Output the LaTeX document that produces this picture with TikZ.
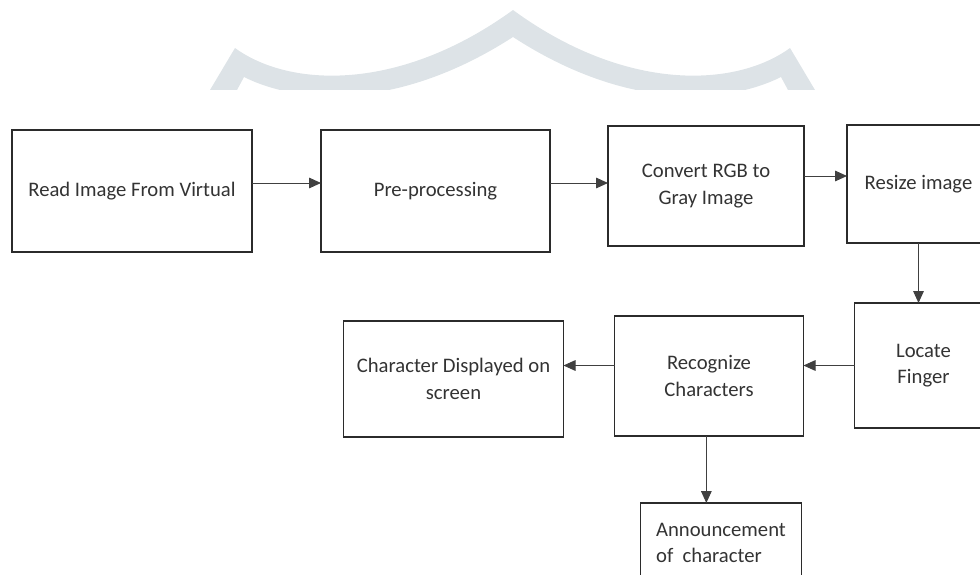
\documentclass[tikz,border=0pt]{standalone}
\usepackage{fontspec}
\setmainfont{Carlito}
\usepackage{tikz}
\usetikzlibrary{arrows.meta, positioning}
\definecolor{wmarkgray}{HTML}{DDE3E7}
\definecolor{linegray}{HTML}{2B2B2B}
\definecolor{textgray}{HTML}{333333}

\begin{document}
\begin{tikzpicture}[
  x=0.75pt, y=-0.75pt,
  block/.style={rectangle, draw=linegray, line width=1.4pt, outer sep=0pt, align=center, font=\fontsize{15.5}{20}\selectfont, text=textgray, inner sep=2pt},
  arrow/.style={-{Triangle[length=9pt, width=8pt]}, line width=0.7pt, color=black!75}
]
  \useasboundingbox (0,0) rectangle (980,574);
  \clip (0,0) rectangle (980,574);

  % Watermark
  \begin{scope}
    \clip (0,0) rectangle (980,90);
    \fill[wmarkgray] (210,90) -- (235,48) .. controls (290,88) and (400,92) .. (513,10)
      .. controls (625,92) and (735,88) .. (790,48) -- (815,90) -- (815,110) -- (788,110) -- (788,90) -- (781,77)
      .. controls (725,105) and (625,110) .. (513,37) .. controls (400,110) and (300,105) .. (244,77)
      -- (237,90) -- (237,110) -- (210,110) -- cycle;
  \end{scope}

  % Top row
  \node[block, minimum width=180pt, minimum height=91.5pt] (read) at (132,191) {Read Image From Virtual};
  \node[block, minimum width=171.75pt, minimum height=91.5pt, right=51.75pt of read] (pre) {Pre-processing};
  \node[block, minimum width=147pt, minimum height=90pt, right=43.5pt of pre, yshift=3.75pt] (conv) {Convert RGB to\\Gray Image};
  \node[block, minimum width=107.25pt, minimum height=88.5pt, right=32.25pt of conv, yshift=1.5pt] (resize) {Resize image};

  % Bottom row
  \node[block, minimum width=103.5pt, minimum height=93.75pt, below=45pt of resize, xshift=3.75pt] (locate) {Locate\\Finger};
  \node[block, minimum width=141.75pt, minimum height=90pt, left=38.25pt of locate, yshift=-7.875pt] (recog) {Recognize\\Characters};
  \node[block, minimum width=165pt, minimum height=87pt, left=38.25pt of recog, yshift=-2.25pt] (chardisp) {Character Displayed on\\screen};
  \node[block, align=left, minimum width=120.75pt, minimum height=60pt, below=50.25pt of recog, xshift=9pt] (announce) {Announcement\\of~ character};

  % Arrows
  \draw[arrow] ([yshift=6pt]read.east) -- ([yshift=6pt]pre.west);
  \draw[arrow] ([yshift=6pt]pre.east) -- ([yshift=6pt]pre.east -| conv.west);
  \draw[arrow] ([yshift=7.5pt]conv.east) -- ([yshift=7.5pt]conv.east -| resize.west);
  \draw[arrow] (resize.south) -- (resize.south |- locate.north);
  \draw[arrow] (locate.west) -- (locate.west -| recog.east);
  \draw[arrow] (recog.west |- locate.west) -- (chardisp.east |- locate.west);
  \draw[arrow] ([xshift=-2pt]recog.south) -- ([xshift=-2pt]recog.south |- announce.north);
\end{tikzpicture}
\end{document}
